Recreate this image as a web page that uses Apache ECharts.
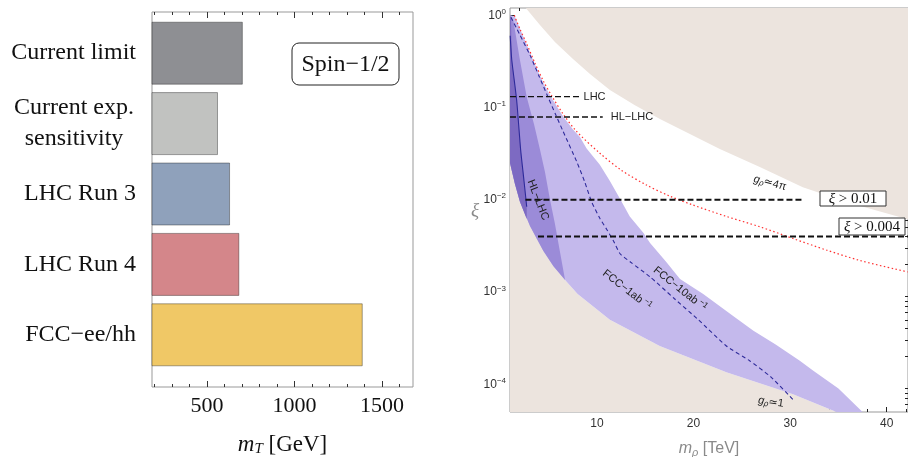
<!DOCTYPE html>
<html><head><meta charset="utf-8">
<script src="https://cdn.jsdelivr.net/npm/echarts@6/dist/echarts.min.js"></script>
<style>html,body{margin:0;padding:0;background:#fff}#c{width:908px;height:457px}</style>
</head><body><div id="c"></div>
<script>
// ---------- Left panel data ----------
const categories = ['Current limit', 'Current exp.\nsensitivity', 'LHC Run 3', 'LHC Run 4', 'FCC−ee/hh'];
const massLimits = [705, 563, 632, 685, 1390];
const barColors = ['#8e8f93', '#c1c2c0', '#8fa1bb', '#d4868a', '#f0c866'];
const mTTicks = [500, 1000, 1500];
const mTMinorTicks = [200, 300, 400, 600, 700, 800, 900, 1100, 1200, 1300, 1400, 1600];

// ---------- Right panel data ----------
const mRhoTicks = [10, 20, 30, 40];
const mRhoMinorTicks = [2, 4, 6, 8, 12, 14, 16, 18, 22, 24, 26, 28, 32, 34, 36, 38, 42];
const xiTicks = [1e-4, 1e-3, 1e-2, 1e-1, 1];
const xiMinorTicks = [6e-5, 7e-5, 8e-5, 9e-5, 2e-4, 3e-4, 4e-4, 5e-4, 6e-4, 7e-4, 8e-4, 9e-4,
  2e-3, 3e-3, 4e-3, 5e-3, 6e-3, 7e-3, 8e-3, 9e-3, 2e-2, 3e-2, 4e-2, 5e-2, 6e-2, 7e-2, 8e-2, 9e-2,
  0.2, 0.3, 0.4, 0.5, 0.6, 0.7, 0.8, 0.9];

// g_rho = 4pi excluded region boundary
const strongM  = [2.55, 4.10, 5.65, 7.52, 9.28, 11.34, 13.93, 16.52, 19.62, 22.72, 26.86, 31.31, 36.17, 42.07, 43.0];
const strongXi = [1.23, 0.785, 0.513, 0.336, 0.231, 0.155, 0.106, 0.075, 0.0515, 0.0355, 0.0226, 0.0137, 0.0092, 0.0062, 0.0059];
// g_rho = 1 boundary
const weakM  = [1.0, 1.5, 2.0, 3.0, 4.0, 5.0, 6.7, 8.0, 11.34, 16.5, 23.4, 30.3, 34.8, 36.0];
const weakXi = [0.06, 0.027, 0.015, 0.0067, 0.0038, 0.0024, 0.00135, 0.00095, 0.0005, 0.00026, 0.000135, 7.8e-5, 5e-5, 4.5e-5];
// lower edge of the purple reach regions
const reachLowM  = [1.0, 1.5, 2.03, 3.07, 4.44, 5.5, 6.7, 8.0, 11.34, 16.5, 23.4, 30.3, 34.8];
const reachLowXi = [0.025, 0.015, 0.0095, 0.0052, 0.0028, 0.0019, 0.00135, 0.00095, 0.0005, 0.00026, 0.000135, 7.8e-5, 5e-5];
// FCC-10ab^-1 reach (outer edge)
const fcc10M  = [1.05, 1.5, 2.7, 3.6, 4.5, 5.3, 6.5, 7.5, 8.24, 8.93, 10.3, 11.34, 12.4, 13.4, 14.8, 15.5, 17.2, 18.6, 21.0, 24.1, 26.2, 28.5, 31.0, 32.4, 35.0, 37.5, 38.0];
const fcc10Xi = [1.0, 0.97, 0.49, 0.29, 0.18, 0.128, 0.08, 0.058, 0.048, 0.036, 0.024, 0.016, 0.0102, 0.0066, 0.0044, 0.0034, 0.0021, 0.00138, 0.00095, 0.00055, 0.00038, 0.00027, 0.00018, 0.00014, 9e-5, 5e-5, 4.4e-5];
// HL-LHC reach (edge)
const hlM  = [1.05, 1.34, 2.0, 2.73, 3.5, 4.1, 4.62, 5.14, 5.65, 6.1, 6.7];
const hlXi = [0.98, 0.89, 0.34, 0.13, 0.065, 0.035, 0.02, 0.01, 0.0055, 0.003, 0.00135];
// LHC reach (solid line)
const lhcM  = [1.02, 1.18, 1.69, 2.1, 2.45, 2.73];
const lhcXi = [0.6, 0.33, 0.12, 0.035, 0.016, 0.0084];
// FCC-1ab^-1 (dashed blue)
const fcc1M  = [1.1, 2.0, 3.07, 4.0, 4.8, 5.7, 6.5, 7.9, 8.7, 9.45, 10.3, 11.0, 11.7, 12.4, 13.5, 15.5, 18.0, 20.5, 23.4, 25.8, 28.0, 30.3];
const fcc1Xi = [0.95, 0.62, 0.37, 0.22, 0.14, 0.085, 0.055, 0.026, 0.016, 0.0095, 0.0063, 0.0048, 0.0036, 0.0026, 0.0021, 0.00146, 0.00085, 0.0005, 0.00026, 0.00018, 0.00012, 6.8e-5];
// red dotted curve
const redM  = [1.45, 2.0, 2.7, 3.6, 4.5, 5.3, 6.5, 7.9, 10.3, 12.5, 15.1, 17.5, 19.9, 23.4, 26.85, 30.3, 33.75, 37.2, 41.0, 42.2];
const redXi = [1.0, 0.72, 0.5, 0.3, 0.19, 0.135, 0.085, 0.055, 0.032, 0.021, 0.0145, 0.011, 0.0088, 0.0066, 0.0051, 0.0038, 0.00285, 0.0022, 0.00176, 0.00165];
// horizontal dashed reference lines
const lhcLineM = [1.0, 8.2],   lhcLineXi = 0.131;
const hlLineM  = [1.0, 10.6],  hlLineXi = 0.079;
const xi01M    = [2.6, 31.3],  xi01 = 0.01;
const xi004M   = [3.9, 42.2],  xi004 = 0.004;

const M_MIN = 1, M_MAX = 42.2, XI_MIN = 5e-5, XI_MAX = 1.2;
const MT_MIN = 186, MT_MAX = 1677;

const zip = (a, b) => a.map((v, i) => [v, b[i]]);
const SERIF = '"Liberation Serif", "Times New Roman", serif';
const SANS = '"Liberation Sans", Arial, sans-serif';

function polygonSeries(pts, color) {
  return {
    type: 'custom', xAxisIndex: 5, yAxisIndex: 2, silent: true, animation: false,
    data: pts,
    renderItem: (params, api) => {
      if (params.dataIndex !== 0) return null;
      const cs = params.coordSys;
      return {
        type: 'polygon',
        shape: { points: pts.map(p => api.coord(p)) },
        style: { fill: color },
        clipPath: { type: 'rect', shape: { x: cs.x, y: cs.y, width: cs.width, height: cs.height } }
      };
    }
  };
}

const strongPoly = zip(strongM, strongXi).concat([[M_MAX * 1.3, XI_MAX * 4], [strongM[0] + 0.5, XI_MAX * 4]]);
const weakPoly = zip(weakM, weakXi).concat([[weakM[weakM.length - 1], XI_MIN / 3], [M_MIN * 0.5, XI_MIN / 3], [M_MIN * 0.5, weakXi[0]]]);
const fcc10Poly = zip(fcc10M, fcc10Xi).concat(zip(reachLowM, reachLowXi).reverse(), [[M_MIN * 0.5, reachLowXi[0]], [M_MIN * 0.5, fcc10Xi[0]]]);
const hlPoly = zip(hlM, hlXi).concat(zip(reachLowM.slice(0, 7), reachLowXi.slice(0, 7)).reverse(), [[M_MIN * 0.5, reachLowXi[0]], [M_MIN * 0.5, hlXi[0]]]);
const lhcPoly = [[1.0, 0.98], [1.1, 0.9]].concat(zip(lhcM.slice(1), lhcXi.slice(1)),
  [[2.73, 0.0062]], zip(reachLowM.slice(0, 3), reachLowXi.slice(0, 3)).reverse(), [[M_MIN * 0.5, reachLowXi[0]], [M_MIN * 0.5, 0.98]]);

function hLine(ms, xi, width, label, dist) {
  const s = {
    type: 'line', xAxisIndex: 5, yAxisIndex: 2, symbol: 'none', silent: true, animation: false,
    data: ms.map(m => [m, xi]),
    lineStyle: { color: '#111', width: width, type: [6, 3] }, z: 5
  };
  if (label) s.endLabel = { show: true, formatter: label, color: '#222', fontSize: 11, fontFamily: SANS, distance: dist };
  return s;
}

const xiLabelFmt = v => {
  const e = v <= 0 ? v : Math.round(Math.log10(v));
  return '10{s|' + String(e).replace('-', '−') + '}';
};

const option = {
  animation: false,
  grid: [
    { left: 152, top: 18, width: 261, height: 352, outerBoundsMode: 'none', containLabel: false },
    { left: 152, top: 12, width: 261, height: 375, show: true, borderColor: '#999', borderWidth: 1, outerBoundsMode: 'none', containLabel: false },
    { left: 510, top: 8, right: 0, bottom: 45, show: true, borderColor: '#999', borderWidth: 1, outerBoundsMode: 'none', containLabel: false }
  ],
  xAxis: [
    { gridIndex: 0, type: 'value', min: MT_MIN, max: MT_MAX, show: false },
    { gridIndex: 1, type: 'value', min: MT_MIN, max: MT_MAX, position: 'bottom',
      axisLine: { show: false }, splitLine: { show: false },
      axisTick: { inside: true, length: 6, customValues: mTTicks, lineStyle: { color: '#333' } },
      axisLabel: { customValues: mTTicks, formatter: v => String(v), fontFamily: SERIF, fontSize: 22, color: '#111', margin: 8 },
      name: '{i|m}{s|T} [GeV]', nameLocation: 'middle', nameGap: 46,
      nameTextStyle: { fontFamily: SERIF, fontSize: 23, color: '#111',
        rich: { i: { fontFamily: SERIF, fontSize: 23, fontStyle: 'italic', color: '#111' },
                s: { fontFamily: SERIF, fontSize: 15, fontStyle: 'italic', color: '#111', padding: [9, 0, 0, 0] } } } },
    { gridIndex: 1, type: 'value', min: MT_MIN, max: MT_MAX, position: 'bottom',
      axisLine: { show: false }, splitLine: { show: false }, axisLabel: { show: false },
      axisTick: { inside: true, length: 3, customValues: mTMinorTicks, lineStyle: { color: '#333' } } },
    { gridIndex: 1, type: 'value', min: MT_MIN, max: MT_MAX, position: 'top',
      axisLine: { show: false }, splitLine: { show: false }, axisLabel: { show: false },
      axisTick: { inside: true, length: 6, customValues: mTTicks, lineStyle: { color: '#333' } } },
    { gridIndex: 1, type: 'value', min: MT_MIN, max: MT_MAX, position: 'top',
      axisLine: { show: false }, splitLine: { show: false }, axisLabel: { show: false },
      axisTick: { inside: true, length: 3, customValues: mTMinorTicks, lineStyle: { color: '#333' } } },
    { gridIndex: 2, type: 'value', min: M_MIN, max: M_MAX, position: 'bottom',
      axisLine: { show: false }, splitLine: { show: false },
      axisTick: { inside: true, length: 5, customValues: mRhoTicks, lineStyle: { color: '#222' } },
      axisLabel: { customValues: mRhoTicks, fontFamily: SANS, fontSize: 12, color: '#333', margin: 6 },
      name: '{i|m}{s|ρ} [TeV]', nameLocation: 'middle', nameGap: 28,
      nameTextStyle: { fontFamily: SANS, fontSize: 16, color: '#8a8a8a',
        rich: { i: { fontFamily: SANS, fontSize: 16, fontStyle: 'italic', color: '#8a8a8a' },
                s: { fontFamily: SANS, fontSize: 11, fontStyle: 'italic', color: '#8a8a8a', padding: [7, 0, 0, 0] } } } },
    { gridIndex: 2, type: 'value', min: M_MIN, max: M_MAX, position: 'bottom',
      axisLine: { show: false }, splitLine: { show: false }, axisLabel: { show: false },
      axisTick: { inside: true, length: 3, customValues: mRhoMinorTicks, lineStyle: { color: '#222' } } },
    { gridIndex: 2, type: 'value', min: M_MIN, max: M_MAX, position: 'top',
      axisLine: { show: false }, splitLine: { show: false }, axisLabel: { show: false },
      axisTick: { inside: true, length: 5, customValues: mRhoTicks, lineStyle: { color: '#222' } } },
    { gridIndex: 2, type: 'value', min: M_MIN, max: M_MAX, position: 'top',
      axisLine: { show: false }, splitLine: { show: false }, axisLabel: { show: false },
      axisTick: { inside: true, length: 3, customValues: mRhoMinorTicks, lineStyle: { color: '#222' } } }
  ],
  yAxis: [
    { gridIndex: 0, type: 'category', data: categories, inverse: true,
      axisLine: { show: false }, axisTick: { show: false },
      axisLabel: { margin: 16, fontFamily: SERIF, fontSize: 24, color: '#111', lineHeight: 31,
        formatter: v => v.indexOf('\n') >= 0 ? v.split('\n').map(s => '{c|' + s + '}').join('\n') : v,
        rich: { c: { fontFamily: SERIF, fontSize: 24, color: '#111', width: 124, align: 'center', lineHeight: 31 } } } },
    { gridIndex: 1, type: 'value', min: 0, max: 1, show: false },
    { gridIndex: 2, type: 'log', logBase: 10, min: XI_MIN, max: XI_MAX,
      axisLine: { show: false }, splitLine: { show: false },
      axisTick: { inside: true, length: 5, customValues: xiTicks, lineStyle: { color: '#222' } },
      axisLabel: { customValues: xiTicks, fontFamily: SANS, fontSize: 12, color: '#333', margin: 4,
        formatter: xiLabelFmt,
        rich: { s: { fontFamily: SANS, fontSize: 8, color: '#333', padding: [0, 0, 7, 0] } } } },
    { gridIndex: 2, type: 'log', logBase: 10, min: XI_MIN, max: XI_MAX,
      axisLine: { show: false }, splitLine: { show: false }, axisLabel: { show: false },
      axisTick: { inside: true, length: 3, customValues: xiMinorTicks, lineStyle: { color: '#222' } } }
  ],
  series: [
    { type: 'bar', xAxisIndex: 0, yAxisIndex: 0, barWidth: 63, silent: true,
      data: massLimits.map((v, i) => ({ value: v, itemStyle: { color: barColors[i] } })),
      itemStyle: { borderColor: 'rgba(0,0,0,0.35)', borderWidth: 1 } },
    polygonSeries(strongPoly, '#ece4de'),
    polygonSeries(weakPoly, '#ece4de'),
    polygonSeries(fcc10Poly, '#c4b9ec'),
    polygonSeries(hlPoly, '#9b8bd8'),
    polygonSeries(lhcPoly, '#7d6ac2'),
    { type: 'line', xAxisIndex: 5, yAxisIndex: 2, symbol: 'none', silent: true, z: 4,
      data: zip(redM, redXi), smooth: 0.3, lineStyle: { color: '#ff3030', width: 1.2, type: [1.5, 2.5] } },
    { type: 'line', xAxisIndex: 5, yAxisIndex: 2, symbol: 'none', silent: true, z: 4,
      data: zip(fcc1M, fcc1Xi), smooth: 0.2, lineStyle: { color: '#2e2a9a', width: 1.1, type: [4, 3] } },
    { type: 'line', xAxisIndex: 5, yAxisIndex: 2, symbol: 'none', silent: true, z: 4,
      data: zip(lhcM, lhcXi), smooth: 0.2, lineStyle: { color: '#2e2a9a', width: 1.1 } },
    hLine(lhcLineM, lhcLineXi, 1.3, 'LHC', 4),
    hLine(hlLineM, hlLineXi, 1.3, 'HL−LHC', 8),
    hLine(xi01M, xi01, 2, null),
    hLine(xi004M, xi004, 2, null)
  ],
  graphic: [
    { type: 'rect', shape: { x: 292, y: 43, width: 107, height: 42, r: 7 }, style: { fill: '#fff', stroke: '#222', lineWidth: 1 }, z: 10 },
    { type: 'text', x: 345.5, y: 65, z: 11, style: { text: 'Spin−1/2', fontFamily: SERIF, fontSize: 24, fill: '#111', align: 'center', verticalAlign: 'middle' } },
    { type: 'text', x: 475, y: 211, z: 11, style: { text: 'ξ', fontFamily: SERIF, fontStyle: 'italic', fontSize: 19, fill: '#8a8a8a', align: 'center', verticalAlign: 'middle' } },
    { type: 'rect', shape: { x: 820, y: 191, width: 66, height: 15 }, style: { fill: '#fff', stroke: '#333', lineWidth: 1 }, z: 10 },
    { type: 'text', x: 853, y: 199, z: 11, style: { text: '{x|ξ} > 0.01', fontFamily: SERIF, fontSize: 15, fill: '#111', align: 'center', verticalAlign: 'middle',
      rich: { x: { fontFamily: SERIF, fontSize: 15, fontStyle: 'italic', fill: '#111' } } } },
    { type: 'rect', shape: { x: 839, y: 218, width: 66, height: 17 }, style: { fill: '#fff', stroke: '#333', lineWidth: 1 }, z: 10 },
    { type: 'text', x: 872, y: 227, z: 11, style: { text: '{x|ξ} > 0.004', fontFamily: SERIF, fontSize: 15, fill: '#111', align: 'center', verticalAlign: 'middle',
      rich: { x: { fontFamily: SERIF, fontSize: 15, fontStyle: 'italic', fill: '#111' } } } },
    { type: 'text', x: 770, y: 183, rotation: -0.26, z: 11, style: { text: '{g|g}{s|ρ}≃4π', fontFamily: SANS, fontSize: 11, fill: '#222', align: 'center', verticalAlign: 'middle',
      rich: { g: { fontFamily: SANS, fontSize: 11, fontStyle: 'italic', fill: '#222' }, s: { fontFamily: SANS, fontSize: 8, fontStyle: 'italic', fill: '#222', padding: [5, 0, 0, 0] } } } },
    { type: 'text', x: 771, y: 402, rotation: -0.14, z: 11, style: { text: '{g|g}{s|ρ}≃1', fontFamily: SANS, fontSize: 11, fill: '#222', align: 'center', verticalAlign: 'middle',
      rich: { g: { fontFamily: SANS, fontSize: 11, fontStyle: 'italic', fill: '#222' }, s: { fontFamily: SANS, fontSize: 8, fontStyle: 'italic', fill: '#222', padding: [5, 0, 0, 0] } } } },
    { type: 'text', x: 538, y: 200, rotation: -1.2, z: 11, style: { text: 'HL−LHC', fontFamily: SANS, fontSize: 11, fill: '#222', align: 'center', verticalAlign: 'middle' } },
    { type: 'text', x: 627, y: 290, rotation: -0.66, z: 11, style: { text: 'FCC−1ab{s|−1}', fontFamily: SANS, fontSize: 11, fill: '#222', align: 'center', verticalAlign: 'middle',
      rich: { s: { fontFamily: SANS, fontSize: 8, fill: '#222', padding: [0, 0, 6, 2] } } } },
    { type: 'text', x: 680, y: 289, rotation: -0.67, z: 11, style: { text: 'FCC−10ab{s|−1}', fontFamily: SANS, fontSize: 11, fill: '#222', align: 'center', verticalAlign: 'middle',
      rich: { s: { fontFamily: SANS, fontSize: 8, fill: '#222', padding: [0, 0, 6, 2] } } } }
  ]
};

const chart = echarts.init(document.getElementById('c'), null, { renderer: 'canvas' });
chart.setOption(option);
</script>
</body></html>
